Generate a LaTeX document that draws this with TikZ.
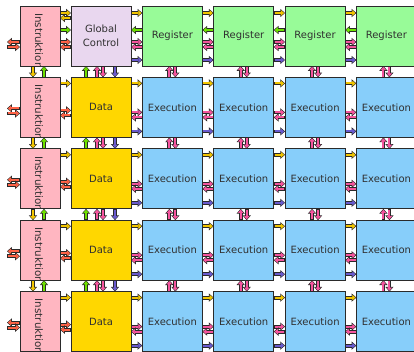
\documentclass[tikz,border=0pt]{standalone}
\usepackage{fontspec}
\setmainfont{DejaVu Sans}
\usetikzlibrary{arrows.meta,calc}

% box fills
\definecolor{edge}{HTML}{2A2A2A}
\definecolor{txt}{HTML}{303030}
\definecolor{instfill}{HTML}{FFB6C1}
\definecolor{gcfill}{HTML}{E9D7EF}
\definecolor{regfill}{HTML}{98FB98}
\definecolor{datafill}{HTML}{FFD700}
\definecolor{exfill}{HTML}{87CEFA}
% connector colours
\definecolor{ayel}{HTML}{F2C500}
\definecolor{agrn}{HTML}{6EE000}
\definecolor{ared}{HTML}{FF6347}
\definecolor{apink}{HTML}{F5559E}
\definecolor{apur}{HTML}{6A5ACD}

% fat outlined arrow from (#2)+(#4,#5) to (#3)+(#4,#5)
\newcommand\fa[5]{%
  \draw[fatout] ($(#2)+(#4,#5)$) -- ($(#3)+(#4,#5)$);
  \draw[fatin=#1] ($(#2)+(#4,#5)$) -- ($(#3)+(#4,#5)$);}

\begin{document}
\begin{tikzpicture}[x=1pt,y=-1pt,
  box/.style={draw=edge, line width=1pt, outer sep=0pt, inner sep=0pt,
    minimum width=60pt, minimum height=60pt, anchor=north west,
    text=txt, align=center, font=\fontsize{10}{13.5}\selectfont},
  instbox/.style={box, fill=instfill, minimum width=40pt},
  gcbox/.style={box, fill=gcfill},
  regbox/.style={box, fill=regfill},
  databox/.style={box, fill=datafill},
  exbox/.style={box, fill=exfill},
  vlabel/.style={rotate=-90, anchor=west, inner sep=0pt, text=txt,
    font=\fontsize{10.3}{12}\selectfont},
  fatout/.style={line width=3.8pt, draw=edge, -{Triangle[length=4.8pt,width=8pt]}},
  fatin/.style={line width=2.1pt, draw=#1, -{Triangle[length=3.2pt,width=5.3pt]},
    shorten >=0.9pt, shorten <=0.8pt},
]
\useasboundingbox (0,0) rectangle (414,351);

% boxes
\foreach \r in {0,...,4} {
  \pgfmathsetmacro\y{6+71.4*\r}
  \node[instbox] (b-0-\r) at (20,\y) {};
  \begin{scope}
    \clip ($(b-0-\r.north west)+(0.5,0.5)$) rectangle ($(b-0-\r.south east)+(-0.5,-0.5)$);
    \node[vlabel] (t-\r) at ($(b-0-\r.north)+(-1,7)$) {Instruktion};
  \end{scope}
  \foreach \k in {1,...,5} {
    \pgfmathsetmacro\x{71+71.35*(\k-1)}
    \ifnum\r=0
      \ifnum\k=1
        \node[gcbox] (b-\k-\r) at (\x,\y) {Global\\Control};
      \else
        \node[regbox] (b-\k-\r) at (\x,\y) {Register};
      \fi
    \else
      \ifnum\k=1
        \node[databox] (b-\k-\r) at (\x,\y) {Data};
      \else
        \node[exbox] (b-\k-\r) at (\x,\y) {Execution};
      \fi
    \fi
  }
}

% horizontal connectors
\foreach \r in {0,...,4} {
  \coordinate (l-\r) at ($(b-0-\r.north west)+(-13,0)$);
  \ifnum\r=0
    \fa{ared}{b-0-\r.north west}{l-\r}{0}{36}
    \fa{ared}{l-\r}{b-0-\r.north west}{0}{41}
    \fa{ayel}{b-0-0.north east}{b-1-0.north west}{0}{7}
    \fa{ayel}{b-1-0.north west}{b-0-0.north east}{0}{12}
    \fa{agrn}{b-0-0.north east}{b-1-0.north west}{0}{24}
    \fa{ared}{b-0-0.north east}{b-1-0.north west}{0}{36}
    \fa{ared}{b-1-0.north west}{b-0-0.north east}{0}{41}
    \foreach \k in {1,...,4} {
      \pgfmathtruncatemacro\n{\k+1}
      \fa{ayel}{b-\k-0.north east}{b-\n-0.north west}{0}{7}
      \fa{agrn}{b-\n-0.north west}{b-\k-0.north east}{0}{24}
      \fa{apink}{b-\k-0.north east}{b-\n-0.north west}{0}{36}
      \fa{apink}{b-\n-0.north west}{b-\k-0.north east}{0}{41}
      \fa{apur}{b-\k-0.north east}{b-\n-0.north west}{0}{54}
    }
  \else
    \fa{ared}{b-0-\r.north west}{l-\r}{0}{31}
    \fa{ared}{l-\r}{b-0-\r.north west}{0}{36}
    \fa{ayel}{b-0-\r.north east}{b-1-\r.north west}{0}{6}
    \fa{ared}{b-0-\r.north east}{b-1-\r.north west}{0}{33}
    \fa{ared}{b-1-\r.north west}{b-0-\r.north east}{0}{38}
    \foreach \k in {1,...,4} {
      \pgfmathtruncatemacro\n{\k+1}
      \fa{ayel}{b-\k-\r.north east}{b-\n-\r.north west}{0}{6}
      \fa{apink}{b-\k-\r.north east}{b-\n-\r.north west}{0}{35}
      \fa{apink}{b-\n-\r.north west}{b-\k-\r.north east}{0}{40}
      \fa{apur}{b-\k-\r.north east}{b-\n-\r.north west}{0}{54}
    }
  \fi
}

% vertical connectors
\foreach \r in {0,...,3} {
  \pgfmathtruncatemacro\n{\r+1}
  \fa{ayel}{b-0-\r.south west}{b-0-\n.north west}{13}{0}
  \fa{agrn}{b-0-\n.north west}{b-0-\r.south west}{24}{0}
  \fa{agrn}{b-1-\n.north west}{b-1-\r.south west}{15}{0}
  \fa{apink}{b-1-\n.north west}{b-1-\r.south west}{26}{0}
  \fa{apink}{b-1-\r.south west}{b-1-\n.north west}{32}{0}
  \fa{apur}{b-1-\r.south west}{b-1-\n.north west}{44}{0}
  \foreach \k in {2,...,5} {
    \fa{apink}{b-\k-\n.north west}{b-\k-\r.south west}{27}{0}
    \fa{apink}{b-\k-\r.south west}{b-\k-\n.north west}{33}{0}
  }
}
\end{tikzpicture}
\end{document}
